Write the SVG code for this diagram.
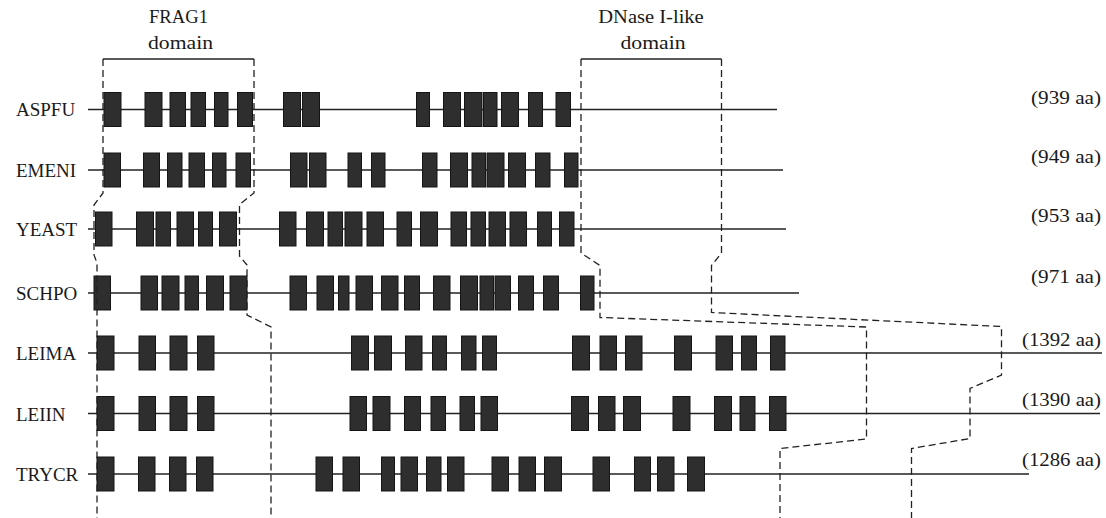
<svg xmlns="http://www.w3.org/2000/svg" width="1106" height="518" viewBox="0 0 1106 518">
<style>
text{font-family:"Liberation Serif","Times New Roman",serif;fill:#1a1a1a}
.lbl{font-size:19px}
.len{font-size:18px;text-anchor:end}
.dom{font-size:19px;text-anchor:middle}
.bb{stroke:#222;stroke-width:1.4;fill:none}
.b rect{fill:#2e2e2e;stroke:#151515;stroke-width:1}
.dash{fill:none;stroke:#222;stroke-width:1.3;stroke-dasharray:7 4}
.br{fill:none;stroke:#222;stroke-width:1.4}
</style>
<rect width="1106" height="518" fill="#fff"/>
<g id="frag1-domain">
<text class="dom" x="178.5" y="23" textLength="59" lengthAdjust="spacingAndGlyphs">FRAG1</text>
<text class="dom" x="180.5" y="48.5" textLength="65" lengthAdjust="spacingAndGlyphs">domain</text>
<path class="br" d="M103,59 H254"/>
</g>
<g id="dnase-domain">
<text class="dom" x="651" y="23" textLength="105.5" lengthAdjust="spacingAndGlyphs">DNase I-like</text>
<text class="dom" x="653" y="48.5" textLength="65" lengthAdjust="spacingAndGlyphs">domain</text>
<path class="br" d="M581,59 H721.5"/>
</g>
<g id="ASPFU">
<text class="lbl" x="16" y="116">ASPFU</text>
<line class="bb" x1="88" y1="109.5" x2="777" y2="109.5"/>
<g class="b">
<rect x="104" y="92.5" width="17" height="34"/><rect x="145" y="92.5" width="17" height="34"/><rect x="170" y="92.5" width="15.5" height="34"/><rect x="191" y="92.5" width="14.5" height="34"/><rect x="214.5" y="92.5" width="13.5" height="34"/><rect x="237.5" y="92.5" width="15" height="34"/><rect x="283.5" y="92.5" width="17" height="34"/><rect x="302.5" y="92.5" width="17" height="34"/><rect x="416.5" y="92.5" width="13" height="34"/><rect x="443.5" y="92.5" width="17" height="34"/><rect x="464.5" y="92.5" width="17.5" height="34"/><rect x="483.5" y="92.5" width="13.5" height="34"/><rect x="501.5" y="92.5" width="17" height="34"/><rect x="528.5" y="92.5" width="14" height="34"/><rect x="556" y="92.5" width="14.5" height="34"/>
</g>
<text class="len" x="1101" y="103.5" textLength="70" lengthAdjust="spacingAndGlyphs">(939 aa)</text>
</g>
<g id="EMENI">
<text class="lbl" x="16" y="177">EMENI</text>
<line class="bb" x1="88" y1="170" x2="783" y2="170"/>
<g class="b">
<rect x="104" y="153" width="16.5" height="34"/><rect x="143.5" y="153" width="16" height="34"/><rect x="167.5" y="153" width="14.5" height="34"/><rect x="189" y="153" width="15.5" height="34"/><rect x="212.5" y="153" width="13.5" height="34"/><rect x="236" y="153" width="14.5" height="34"/><rect x="290.5" y="153" width="16.5" height="34"/><rect x="309.5" y="153" width="16.5" height="34"/><rect x="348" y="153" width="13.5" height="34"/><rect x="371.5" y="153" width="13.5" height="34"/><rect x="422.5" y="153" width="14.5" height="34"/><rect x="450.5" y="153" width="17" height="34"/><rect x="472" y="153" width="13.5" height="34"/><rect x="487" y="153" width="17" height="34"/><rect x="508.5" y="153" width="17" height="34"/><rect x="535.5" y="153" width="14.5" height="34"/><rect x="564.5" y="153" width="13.5" height="34"/>
</g>
<text class="len" x="1101" y="163" textLength="70" lengthAdjust="spacingAndGlyphs">(949 aa)</text>
</g>
<g id="YEAST">
<text class="lbl" x="16" y="236">YEAST</text>
<line class="bb" x1="88" y1="229" x2="786" y2="229"/>
<g class="b">
<rect x="95.5" y="212" width="16.5" height="34"/><rect x="136.5" y="212" width="17" height="34"/><rect x="156" y="212" width="14.5" height="34"/><rect x="177" y="212" width="16.5" height="34"/><rect x="198.5" y="212" width="14" height="34"/><rect x="219.5" y="212" width="17" height="34"/><rect x="279.5" y="212" width="16.5" height="34"/><rect x="306.5" y="212" width="17" height="34"/><rect x="328" y="212" width="14.5" height="34"/><rect x="345" y="212" width="17" height="34"/><rect x="367" y="212" width="16.5" height="34"/><rect x="397" y="212" width="14.5" height="34"/><rect x="420.5" y="212" width="17" height="34"/><rect x="451" y="212" width="15.5" height="34"/><rect x="471" y="212" width="14.5" height="34"/><rect x="489" y="212" width="16.5" height="34"/><rect x="510" y="212" width="16.5" height="34"/><rect x="537.5" y="212" width="14" height="34"/><rect x="559.5" y="212" width="14.5" height="34"/>
</g>
<text class="len" x="1101" y="222" textLength="70" lengthAdjust="spacingAndGlyphs">(953 aa)</text>
</g>
<g id="SCHPO">
<text class="lbl" x="16" y="300">SCHPO</text>
<line class="bb" x1="88" y1="293" x2="799" y2="293"/>
<g class="b">
<rect x="94" y="276" width="16.5" height="34"/><rect x="141" y="276" width="16.5" height="34"/><rect x="162" y="276" width="17" height="34"/><rect x="185" y="276" width="13.5" height="34"/><rect x="206.5" y="276" width="17" height="34"/><rect x="230" y="276" width="17" height="34"/><rect x="290" y="276" width="16.5" height="34"/><rect x="317" y="276" width="16.5" height="34"/><rect x="338.5" y="276" width="10.5" height="34"/><rect x="356" y="276" width="16.5" height="34"/><rect x="381.5" y="276" width="16.5" height="34"/><rect x="404.5" y="276" width="15" height="34"/><rect x="433.5" y="276" width="16.5" height="34"/><rect x="460.5" y="276" width="17" height="34"/><rect x="480" y="276" width="13.5" height="34"/><rect x="495" y="276" width="15.5" height="34"/><rect x="518.5" y="276" width="15" height="34"/><rect x="543.5" y="276" width="15" height="34"/><rect x="580.5" y="276" width="13.5" height="34"/>
</g>
<text class="len" x="1101" y="283" textLength="70" lengthAdjust="spacingAndGlyphs">(971 aa)</text>
</g>
<g id="LEIMA">
<text class="lbl" x="16" y="360">LEIMA</text>
<line class="bb" x1="88" y1="353" x2="1102" y2="353"/>
<g class="b">
<rect x="97" y="336" width="17" height="34"/><rect x="139" y="336" width="16.5" height="34"/><rect x="170" y="336" width="17" height="34"/><rect x="197.5" y="336" width="16.5" height="34"/><rect x="351.5" y="336" width="17" height="34"/><rect x="374.5" y="336" width="17" height="34"/><rect x="405.5" y="336" width="16.5" height="34"/><rect x="432.5" y="336" width="14" height="34"/><rect x="461.5" y="336" width="14.5" height="34"/><rect x="482.5" y="336" width="14" height="34"/><rect x="572.5" y="336" width="17" height="34"/><rect x="600" y="336" width="16.5" height="34"/><rect x="625.5" y="336" width="16.5" height="34"/><rect x="674.5" y="336" width="17" height="34"/><rect x="716" y="336" width="16.5" height="34"/><rect x="741.5" y="336" width="15" height="34"/><rect x="770.5" y="336" width="14.5" height="34"/>
</g>
<text class="len" x="1101" y="346" textLength="79" lengthAdjust="spacingAndGlyphs">(1392 aa)</text>
</g>
<g id="LEIIN">
<text class="lbl" x="16" y="420.5">LEIIN</text>
<line class="bb" x1="88" y1="413.5" x2="1100" y2="413.5"/>
<g class="b">
<rect x="97" y="396.5" width="17" height="34"/><rect x="139" y="396.5" width="16.5" height="34"/><rect x="170" y="396.5" width="17" height="34"/><rect x="197.5" y="396.5" width="16.5" height="34"/><rect x="350" y="396.5" width="16.5" height="34"/><rect x="373" y="396.5" width="17" height="34"/><rect x="404.5" y="396.5" width="16" height="34"/><rect x="431" y="396.5" width="14.5" height="34"/><rect x="460" y="396.5" width="14.5" height="34"/><rect x="481" y="396.5" width="16.5" height="34"/><rect x="571.5" y="396.5" width="17" height="34"/><rect x="598.5" y="396.5" width="16.5" height="34"/><rect x="623.5" y="396.5" width="17" height="34"/><rect x="673" y="396.5" width="17" height="34"/><rect x="714.5" y="396.5" width="17" height="34"/><rect x="740" y="396.5" width="15" height="34"/><rect x="769.5" y="396.5" width="16.5" height="34"/>
</g>
<text class="len" x="1101" y="406" textLength="79" lengthAdjust="spacingAndGlyphs">(1390 aa)</text>
</g>
<g id="TRYCR">
<text class="lbl" x="16" y="481">TRYCR</text>
<line class="bb" x1="88" y1="474" x2="1029" y2="474"/>
<g class="b">
<rect x="97" y="457" width="17" height="34"/><rect x="138.5" y="457" width="16.5" height="34"/><rect x="169.5" y="457" width="16.5" height="34"/><rect x="196.5" y="457" width="16.5" height="34"/><rect x="316" y="457" width="16.5" height="34"/><rect x="343" y="457" width="16.5" height="34"/><rect x="381.5" y="457" width="13" height="34"/><rect x="401" y="457" width="16.5" height="34"/><rect x="426.5" y="457" width="14.5" height="34"/><rect x="447.5" y="457" width="16.5" height="34"/><rect x="492" y="457" width="16.5" height="34"/><rect x="519" y="457" width="16.5" height="34"/><rect x="544.5" y="457" width="17" height="34"/><rect x="593" y="457" width="16.5" height="34"/><rect x="634.5" y="457" width="16" height="34"/><rect x="657.5" y="457" width="16.5" height="34"/><rect x="687.5" y="457" width="17" height="34"/>
</g>
<text class="len" x="1101" y="466" textLength="79" lengthAdjust="spacingAndGlyphs">(1286 aa)</text>
</g>
<g id="connectors">
<path class="dash" d="M103,59 V193 L94,205 V255 L97,263 V518"/>
<path class="dash" d="M254,59 V193 L239.5,204.5 V256 L247,265 V315 L271,327 V518"/>
<path class="dash" d="M581,59 V253 L600,265.5 V317.5 L866.5,327 V439 L780,448.5 V518"/>
<path class="dash" d="M721.5,59 V253 L711.5,265.5 V312.5 L1001.5,326.5 V375 L970,388.5 V438.5 L911.5,448.5 V518"/>
</g>
</svg>
